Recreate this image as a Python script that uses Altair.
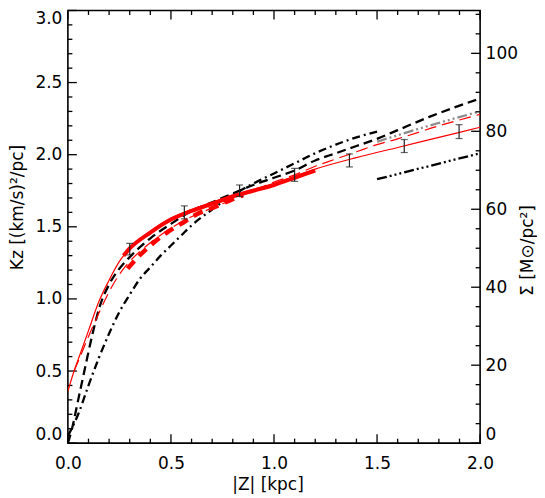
import altair as alt
import pandas as pd

# ---------------- data ----------------
z_red_thin = [0.0, 0.03, 0.06, 0.1, 0.15, 0.2, 0.25, 0.3, 0.4, 0.5, 0.6, 0.7, 0.8, 0.9, 1.0, 1.1, 1.2, 1.4, 1.6, 1.8, 2.0]
k_red_thin = [0.36, 0.50, 0.62, 0.78, 0.98, 1.13, 1.26, 1.35, 1.47, 1.56, 1.62, 1.67, 1.72, 1.76, 1.80, 1.85, 1.90, 1.98, 2.05, 2.12, 2.19]

z_red_thick = [0.27, 0.3, 0.4, 0.5, 0.6, 0.7, 0.8, 0.9, 1.0, 1.1, 1.2]
k_red_thick = [1.30, 1.35, 1.46, 1.55, 1.61, 1.66, 1.71, 1.75, 1.79, 1.84, 1.89]

z_red_thick_dash = [0.29, 0.34, 0.40, 0.48, 0.56, 0.63, 0.70, 0.78, 0.85]
k_red_thick_dash = [1.21, 1.29, 1.37, 1.46, 1.53, 1.59, 1.63, 1.68, 1.72]

z_red_dash = [0.03, 0.06, 0.10, 0.15, 0.20, 0.25, 0.30, 0.35, 0.40, 0.50, 0.60, 0.70, 0.80, 0.90, 1.00, 1.10, 1.20, 1.30, 1.40, 1.50, 1.60, 1.80, 2.00]
k_red_dash = [0.50, 0.60, 0.74, 0.90, 1.05, 1.17, 1.26, 1.33, 1.39, 1.49, 1.57, 1.63, 1.69, 1.75, 1.81, 1.86, 1.92, 1.97, 2.02, 2.07, 2.11, 2.20, 2.28]

z_black_dash = [0.0, 0.02, 0.05, 0.08, 0.12, 0.155, 0.2, 0.25, 0.3, 0.4, 0.5, 0.6, 0.7, 0.8, 0.9, 1.0, 1.1, 1.2, 1.3, 1.4, 1.5, 1.6, 1.75, 2.0]
k_black_dash = [0.0, 0.10, 0.30, 0.50, 0.76, 0.95, 1.10, 1.21, 1.29, 1.42, 1.52, 1.61, 1.67, 1.73, 1.79, 1.84, 1.89, 1.96, 2.01, 2.06, 2.11, 2.17, 2.26, 2.39]

z_black_dashdot = [0.0, 0.05, 0.1, 0.15, 0.2, 0.25, 0.3, 0.35, 0.4, 0.45, 0.5, 0.55, 0.6, 0.7, 0.8, 0.9, 1.0, 1.1, 1.2, 1.3, 1.4, 1.5]
k_black_dashdot = [0.05, 0.20, 0.40, 0.59, 0.76, 0.91, 1.03, 1.14, 1.22, 1.30, 1.37, 1.44, 1.51, 1.62, 1.72, 1.80, 1.87, 1.94, 2.01, 2.07, 2.12, 2.16]

z_gray_d3 = [1.5, 1.75, 2.0]
k_gray_d3 = [2.09, 2.20, 2.30]

z_black_d3 = [1.5, 1.75, 2.0]
k_black_d3 = [1.83, 1.92, 2.01]

z_err = [0.30, 0.565, 0.833, 1.10, 1.366, 1.632, 1.898]
k_err = [1.345, 1.60, 1.75, 1.86, 1.96, 2.06, 2.16]
e_err = [0.04, 0.045, 0.04, 0.045, 0.045, 0.045, 0.048]

# axis ticks
x_major = [0.0, 0.5, 1.0, 1.5, 2.0]
x_minor = [0.1, 0.2, 0.3, 0.4, 0.6, 0.7, 0.8, 0.9, 1.1, 1.2, 1.3, 1.4, 1.6, 1.7, 1.8, 1.9]
k_major = [0.0, 0.5, 1.0, 1.5, 2.0, 2.5, 3.0]
k_minor = [0.1, 0.2, 0.3, 0.4, 0.6, 0.7, 0.8, 0.9, 1.1, 1.2, 1.3, 1.4, 1.6, 1.7, 1.8, 1.9,
           2.1, 2.2, 2.3, 2.4, 2.6, 2.7, 2.8, 2.9]
s_major = [0, 20, 40, 60, 80, 100]
s_minor = [5, 10, 15, 25, 30, 35, 45, 50, 55, 65, 70, 75, 85, 90, 95, 105, 110]
s_max = 111.0  # 3.0 (km/s)^2/pc / (2 pi G)

# ---------------- layout ----------------
W = 413
H = 433.5
FONT = "DejaVu Sans"
MAJ = 9
MIN = 4.5

xscale = alt.Scale(domain=[0, 2], nice=False, zero=False)
kscale = alt.Scale(domain=[0, 3], nice=False, zero=False)
sscale = alt.Scale(domain=[0, s_max], nice=False, zero=False)

xaxis = alt.Axis(values=x_major, format=".1f", labelPadding=12, labelFlush=False,
                 title="|Z| [kpc]", titlePadding=5, titleX=200)
kaxis = alt.Axis(orient="left", values=k_major, format=".1f", labelPadding=6, labelFlush=True,
                 title="Kᴢ [(km/s)²/pc]", titlePadding=8, titleY=197)
saxis = alt.Axis(orient="right", values=s_major, format="d", labelPadding=5, labelFlush=True,
                 title="Σ [M⊙/pc²]", titleAngle=270, titleBaseline="top", titlePadding=2, titleY=240)

X = alt.X("z:Q", scale=xscale, axis=xaxis)
Y = alt.Y("k:Q", scale=kscale, axis=kaxis)


def curve(zs, ks, color, width, dash=None):
    df = pd.DataFrame({"z": zs, "k": ks})
    kw = dict(color=color, strokeWidth=width, interpolate="monotone", clip=True)
    if dash:
        kw["strokeDash"] = dash
    return alt.Chart(df).mark_line(**kw).encode(x=X, y=Y)


d3 = [10, 3, 2, 3, 2, 3, 2, 3]
curves = [
    curve(z_black_dashdot, k_black_dashdot, "black", 2.3, [8, 4, 2, 4]),
    curve(z_black_dash, k_black_dash, "black", 2.3, [9, 5]),
    curve(z_gray_d3, k_gray_d3, "#8c8c8c", 2.3, d3),
    curve(z_black_d3, k_black_d3, "black", 2.3, d3),
    curve(z_red_dash, k_red_dash, "#ff0000", 1.2, [12, 6]),
    curve(z_red_thin, k_red_thin, "#ff0000", 1.2),
    curve(z_red_thick_dash, k_red_thick_dash, "#ff0000", 4.5, [10, 7]),
    curve(z_red_thick, k_red_thick, "#ff0000", 4),
]

err_df = pd.DataFrame({"z": z_err, "k": k_err, "e": e_err})
err_df["lo"] = err_df["k"] - err_df["e"]
err_df["hi"] = err_df["k"] + err_df["e"]
err_base = alt.Chart(err_df)
err_rule = err_base.mark_rule(color="#202020", strokeWidth=1.2).encode(
    x=X, y=alt.Y("lo:Q", scale=kscale, axis=kaxis), y2="hi:Q")
err_cap_lo = err_base.mark_tick(color="#202020", orient="horizontal", size=7, thickness=1.2).encode(
    x=X, y=alt.Y("lo:Q", scale=kscale, axis=kaxis))
err_cap_hi = err_base.mark_tick(color="#202020", orient="horizontal", size=7, thickness=1.2).encode(
    x=X, y=alt.Y("hi:Q", scale=kscale, axis=kaxis))


def xticks(vals, length):
    df = pd.DataFrame({"z": vals})
    base = alt.Chart(df).mark_rule(color="black", strokeWidth=1.3)
    bottom = base.encode(x=X, y=alt.value(H), y2=alt.value(H - length))
    top = base.encode(x=X, y=alt.value(0), y2=alt.value(length))
    return [bottom, top]


def kticks(vals, length):
    df = pd.DataFrame({"k": vals})
    return alt.Chart(df).mark_rule(color="black", strokeWidth=1.3).encode(
        y=Y, x=alt.value(0), x2=alt.value(length))


def sticks(vals, length):
    df = pd.DataFrame({"s": vals})
    return alt.Chart(df).mark_rule(color="black", strokeWidth=1.3).encode(
        y=alt.Y("s:Q", scale=sscale, axis=saxis), x=alt.value(W), x2=alt.value(W - length))


left = alt.layer(
    *xticks(x_major, MAJ), *xticks(x_minor, MIN),
    kticks(k_major, MAJ), kticks(k_minor, MIN),
    *curves, err_rule, err_cap_lo, err_cap_hi,
)
right = alt.layer(sticks(s_major, MAJ), sticks(s_minor, MIN))

chart = alt.layer(left, right).resolve_scale(y="independent").properties(
    width=W, height=H,
    autosize=alt.AutoSizeParams(type="none"),
    padding={"left": 60, "top": 2, "right": 57, "bottom": 52},
).configure_view(stroke="black", strokeWidth=1.6).configure_axis(
    labelFont=FONT, titleFont=FONT, labelFontSize=17, titleFontSize=17,
    titleFontWeight="normal", labelColor="black", titleColor="black",
    grid=False, ticks=False, domain=False,
)

chart.save("out.html", embed_options={"renderer": "svg", "actions": False})
